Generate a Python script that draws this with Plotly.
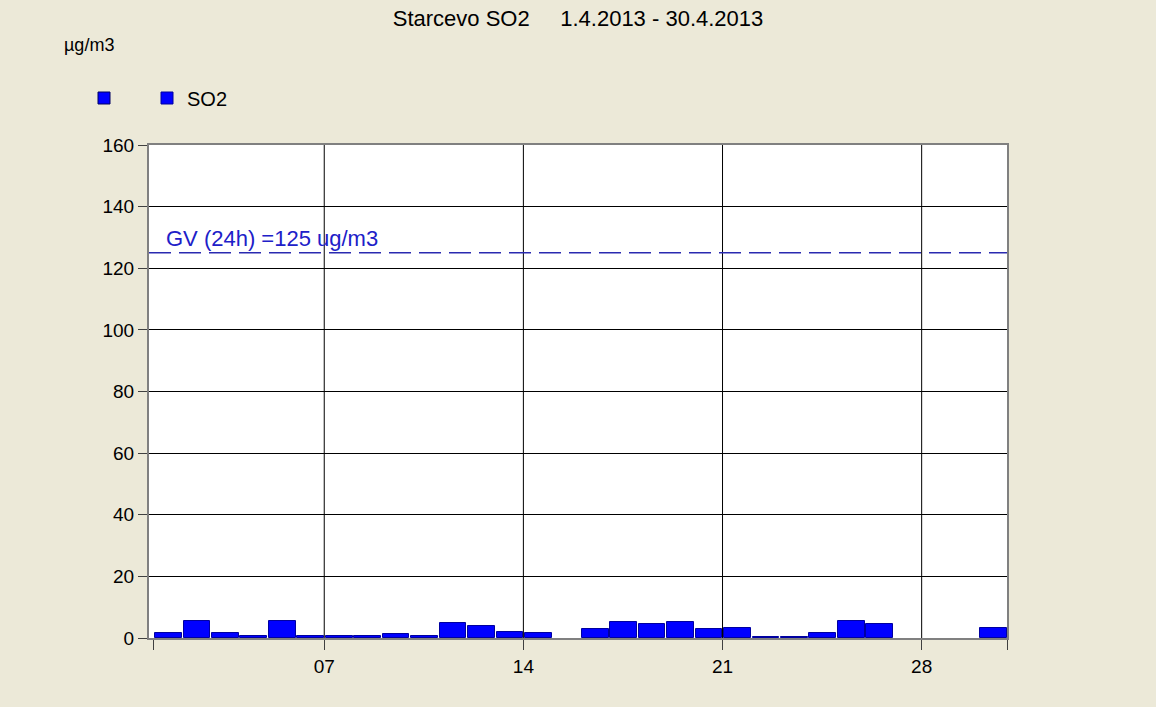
import plotly.graph_objects as go

# ---- data ----
days = list(range(1, 31))
so2 = [1.6, 5.6, 1.6, 0.8, 5.6, 0.8, 0.8, 0.8, 1.3, 0.8,
       4.9, 4.0, 2.0, 1.6, None, 2.8, 5.3, 4.5, 5.3, 2.8,
       3.2, 0.4, 0.4, 1.6, 5.6, 4.5, None, None, None, 3.2]
gv_value = 125
gv_label = "GV (24h) =125 ug/m3"
x_tickvals = [1, 7, 14, 21, 28, 31]
x_ticktext = ["", "07", "14", "21", "28", ""]
x_gridvals = [7, 14, 21, 28]
y_tickvals = [0, 20, 40, 60, 80, 100, 120, 140, 160]
title_text = "Starcevo SO2\u00a0\u00a0\u00a0\u00a0 1.4.2013 - 30.4.2013"
unit_text = "µg/m3"

FONT = "Liberation Sans, Arial, sans-serif"
BG = "#ECE9D8"

fig = go.Figure()

# empty-named legend entry (first square)
fig.add_trace(go.Bar(x=[None], y=[None], name="", legendwidth=18,
                     marker=dict(color="#0000FF", line=dict(color="#000060", width=1)),
                     showlegend=True, hoverinfo="skip"))

fig.add_trace(go.Bar(
    x=days, y=so2, name="SO2",
    offset=0.055, width=0.94,
    marker=dict(color="#0000FF", line=dict(color="#0000A0", width=1)),
    showlegend=True,
))

shapes = []
for gx in x_gridvals:
    shapes.append(dict(type="line", xref="x", yref="paper", x0=gx, x1=gx, y0=0, y1=1,
                       line=dict(color="#000000", width=1), layer="below"))
shapes.append(dict(type="line", xref="paper", yref="y", x0=0, x1=1, y0=gv_value, y1=gv_value,
                   line=dict(color="#2A2AB0", width=1.5, dash="22px,8px"), layer="above"))

fig.update_layout(
    width=1156, height=707,
    paper_bgcolor=BG, plot_bgcolor="#FFFFFF",
    margin=dict(l=149, r=149, t=145, b=69),
    font=dict(family=FONT, size=19, color="#000000"),
    title=dict(text=title_text, x=0.5, xref="container", xanchor="center",
               y=1 - 18 / 707, yref="container", yanchor="middle",
               font=dict(family=FONT, size=22, color="#000000")),
    bargap=0,
    shapes=shapes,
    showlegend=True,
    legend=dict(orientation="h", x=(84 - 149) / 858, xanchor="left",
                y=(638 - 98) / 493, yanchor="middle",
                bgcolor="rgba(0,0,0,0)", itemwidth=30,
                font=dict(family=FONT, size=20, color="#000000")),
    annotations=[
        dict(text=unit_text, xref="paper", yref="paper",
             x=(62 - 149) / 858, y=(638 - 45) / 493, xanchor="left", yanchor="middle",
             showarrow=False, font=dict(family=FONT, size=18, color="#000000")),
        dict(text=gv_label, xref="paper", yref="y",
             x=15 / 858, y=gv_value, xanchor="left", yanchor="bottom", yshift=0,
             showarrow=False, font=dict(family=FONT, size=22, color="#2020C8")),
    ],
)

fig.update_xaxes(range=[0.84, 31], tickmode="array", tickvals=x_tickvals, ticktext=x_ticktext,
                 showgrid=False, zeroline=False, ticks="outside", ticklen=10, tickwidth=1,
                 tickcolor="#404040", showline=True, linecolor="#808080", linewidth=2, mirror=True,
                 tickfont=dict(family=FONT, size=19, color="#000000"))
fig.update_yaxes(range=[0, 160], tickmode="array", tickvals=y_tickvals,
                 showgrid=True, gridcolor="#000000", gridwidth=1, zeroline=False,
                 ticks="outside", ticklen=9, tickwidth=1, tickcolor="#404040",
                 showline=True, linecolor="#808080", linewidth=2, mirror=True,
                 tickfont=dict(family=FONT, size=19, color="#000000"))

fig.write_html("out.html", post_script="document.body.style.margin='0';",
               config={"displayModeBar": False})
